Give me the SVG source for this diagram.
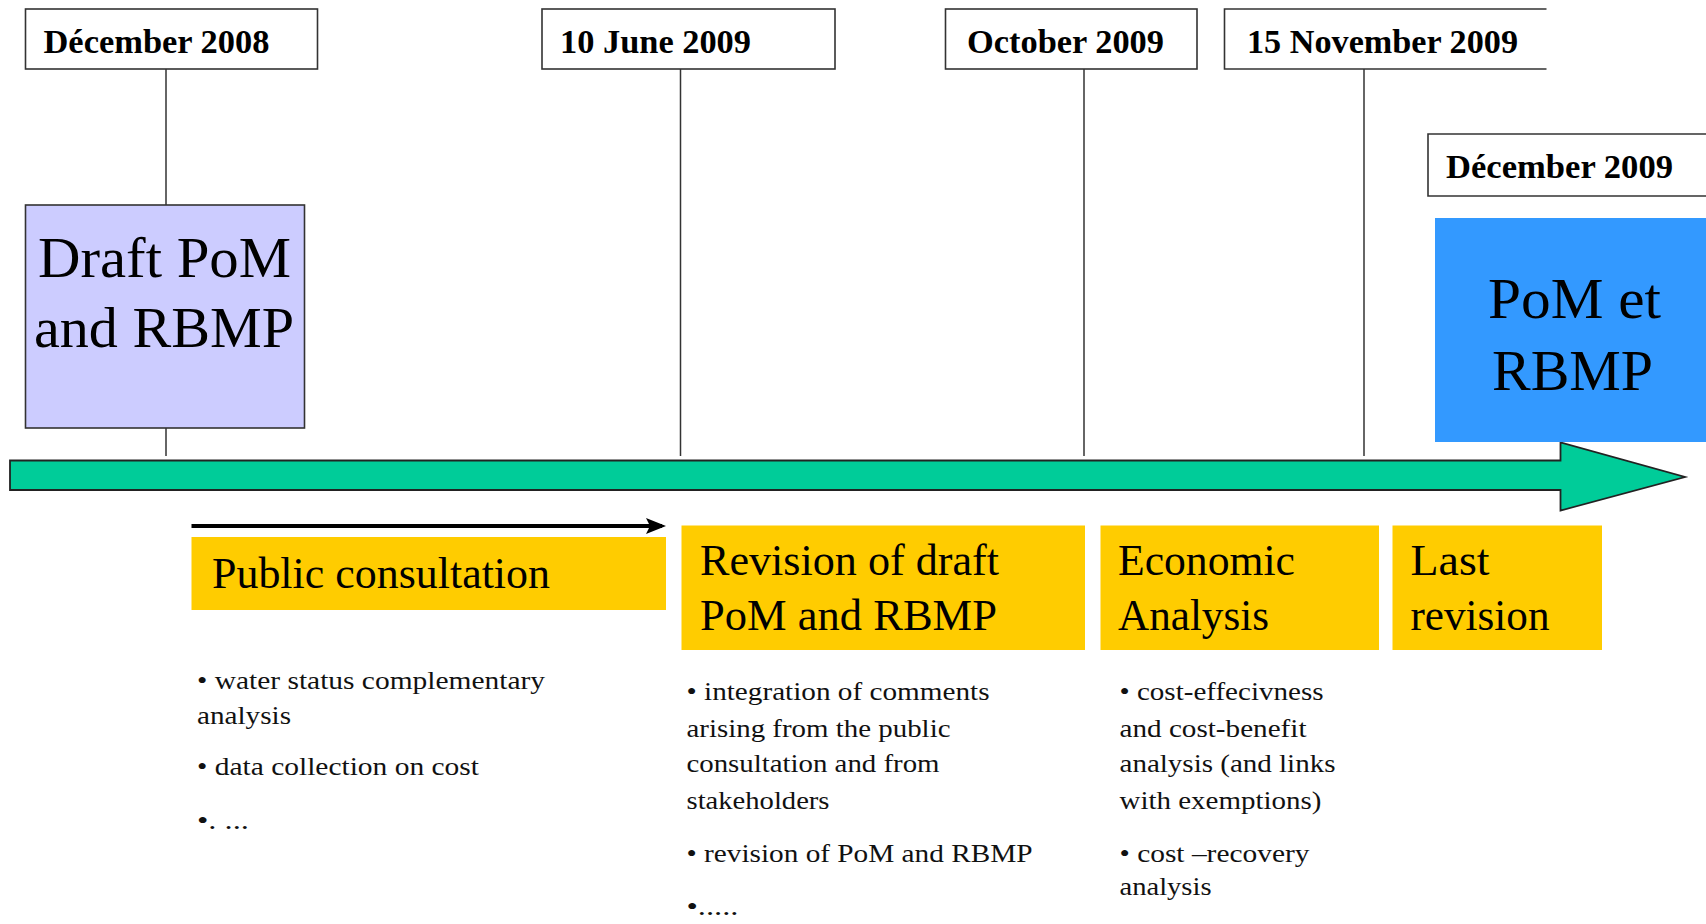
<svg xmlns="http://www.w3.org/2000/svg" width="1706" height="924" viewBox="0 0 1706 924">
<defs>
<style>
.date{fill:#fff;stroke:#333;stroke-width:1.6}
.dtxt{font-family:"Liberation Serif","Times New Roman",serif;font-weight:bold;font-size:33px;fill:#000}
.tick{stroke:#333;stroke-width:1.5;fill:none}
.big{font-family:"Liberation Serif","Times New Roman",serif;font-size:56px;fill:#000}
.phase{fill:#FFCC00}
.ptxt{font-family:"Liberation Serif","Times New Roman",serif;font-size:44px;fill:#000}
.btxt{font-family:"Liberation Serif","Times New Roman",serif;font-size:25px;fill:#111}
</style>
<marker id="ah" markerWidth="5" markerHeight="4" refX="4" refY="2" orient="auto" markerUnits="strokeWidth">
<path d="M0,0 L5,2 L0,4 L1,2 Z" fill="#000"/>
</marker>
</defs>
<rect width="1706" height="924" fill="#fff"/>

<g id="connectors">
<line class="tick" x1="166" y1="69" x2="166" y2="205"/>
<line class="tick" x1="166" y1="428" x2="166" y2="456"/>
<line class="tick" x1="680.5" y1="69" x2="680.5" y2="456"/>
<line class="tick" x1="1084" y1="69" x2="1084" y2="456"/>
<line class="tick" x1="1364" y1="69" x2="1364" y2="456"/>
<line x1="191.5" y1="526" x2="662" y2="526" stroke="#000" stroke-width="4" marker-end="url(#ah)"/>
</g>

<g id="timeline-arrow">
<path d="M10,460.5 L1560.5,460.5 L1560.5,442.5 L1685,477 L1560.5,510.5 L1560.5,490 L10,490 Z" fill="#00CC99" stroke="#222" stroke-width="1.8"/>
</g>

<g id="date-dec2008">
<rect class="date" x="25.5" y="9" width="292" height="60"/>
<text class="dtxt" x="43.5" y="53" textLength="226" lengthAdjust="spacingAndGlyphs">Décember 2008</text>
</g>
<g id="date-jun2009">
<rect class="date" x="542" y="9" width="293" height="60"/>
<text class="dtxt" x="560" y="53" textLength="191" lengthAdjust="spacingAndGlyphs">10 June 2009</text>
</g>
<g id="date-oct2009">
<rect class="date" x="945.5" y="9" width="251.5" height="60"/>
<text class="dtxt" x="967" y="53" textLength="197" lengthAdjust="spacingAndGlyphs">October 2009</text>
</g>
<g id="date-nov2009">
<path class="date" d="M1546.5,9 L1224.5,9 L1224.5,69 L1546.5,69"/>
<text class="dtxt" x="1247" y="53" textLength="271" lengthAdjust="spacingAndGlyphs">15 November 2009</text>
</g>
<g id="date-dec2009">
<path class="date" d="M1706,134 L1428,134 L1428,196 L1706,196"/>
<text class="dtxt" x="1446" y="178" textLength="227" lengthAdjust="spacingAndGlyphs">Décember 2009</text>
</g>

<g id="draft">
<rect x="25.5" y="205" width="279" height="223" fill="#CCCCFF" stroke="#333" stroke-width="1.6"/>
<text class="big" x="38" y="277" textLength="253" lengthAdjust="spacingAndGlyphs">Draft PoM</text>
<text class="big" x="34" y="347" textLength="260" lengthAdjust="spacingAndGlyphs">and RBMP</text>
</g>

<g id="final">
<rect x="1435" y="218" width="271" height="224" fill="#3399FF"/>
<text class="big" x="1488" y="318" textLength="173" lengthAdjust="spacingAndGlyphs">PoM et</text>
<text class="big" x="1492" y="390" textLength="161" lengthAdjust="spacingAndGlyphs">RBMP</text>
</g>

<g id="public-consultation">
<rect class="phase" x="191.5" y="537" width="474.5" height="73"/>
<text class="ptxt" x="212" y="588" textLength="338" lengthAdjust="spacingAndGlyphs">Public consultation</text>
<text class="btxt" x="197" y="689" textLength="348" lengthAdjust="spacingAndGlyphs">• water status complementary</text>
<text class="btxt" x="197" y="724" textLength="94" lengthAdjust="spacingAndGlyphs">analysis</text>
<text class="btxt" x="197" y="775" textLength="282" lengthAdjust="spacingAndGlyphs">• data collection on cost</text>
<text class="btxt" x="197" y="829" textLength="52" lengthAdjust="spacingAndGlyphs">•. ...</text>
</g>

<g id="revision">
<rect class="phase" x="681.5" y="525.5" width="403.5" height="124.5"/>
<text class="ptxt" x="700" y="575" textLength="299" lengthAdjust="spacingAndGlyphs">Revision of draft</text>
<text class="ptxt" x="700" y="630" textLength="297" lengthAdjust="spacingAndGlyphs">PoM and RBMP</text>
<text class="btxt" x="686.5" y="700" textLength="303" lengthAdjust="spacingAndGlyphs">• integration of comments</text>
<text class="btxt" x="686.5" y="737" textLength="264" lengthAdjust="spacingAndGlyphs">arising from the public</text>
<text class="btxt" x="686.5" y="772" textLength="253" lengthAdjust="spacingAndGlyphs">consultation and from</text>
<text class="btxt" x="686.5" y="809" textLength="143" lengthAdjust="spacingAndGlyphs">stakeholders</text>
<text class="btxt" x="686.5" y="862" textLength="346" lengthAdjust="spacingAndGlyphs">• revision of PoM and RBMP</text>
<text class="btxt" x="686.5" y="915" textLength="52" lengthAdjust="spacingAndGlyphs">•.....</text>
</g>

<g id="economic">
<rect class="phase" x="1100.5" y="525.5" width="278.5" height="124.5"/>
<text class="ptxt" x="1118" y="575" textLength="177" lengthAdjust="spacingAndGlyphs">Economic</text>
<text class="ptxt" x="1118" y="630" textLength="151" lengthAdjust="spacingAndGlyphs">Analysis</text>
<text class="btxt" x="1119.5" y="700" textLength="204" lengthAdjust="spacingAndGlyphs">• cost-effecivness</text>
<text class="btxt" x="1119.5" y="737" textLength="187" lengthAdjust="spacingAndGlyphs">and cost-benefit</text>
<text class="btxt" x="1119.5" y="772" textLength="216" lengthAdjust="spacingAndGlyphs">analysis (and links</text>
<text class="btxt" x="1119.5" y="809" textLength="202" lengthAdjust="spacingAndGlyphs">with exemptions)</text>
<text class="btxt" x="1119.5" y="862" textLength="190" lengthAdjust="spacingAndGlyphs">• cost –recovery</text>
<text class="btxt" x="1119.5" y="895" textLength="92" lengthAdjust="spacingAndGlyphs">analysis</text>
</g>

<g id="last-revision">
<rect class="phase" x="1392.5" y="525.5" width="209.5" height="124.5"/>
<text class="ptxt" x="1410.5" y="575" textLength="79" lengthAdjust="spacingAndGlyphs">Last</text>
<text class="ptxt" x="1410.5" y="630" textLength="139" lengthAdjust="spacingAndGlyphs">revision</text>
</g>
</svg>
